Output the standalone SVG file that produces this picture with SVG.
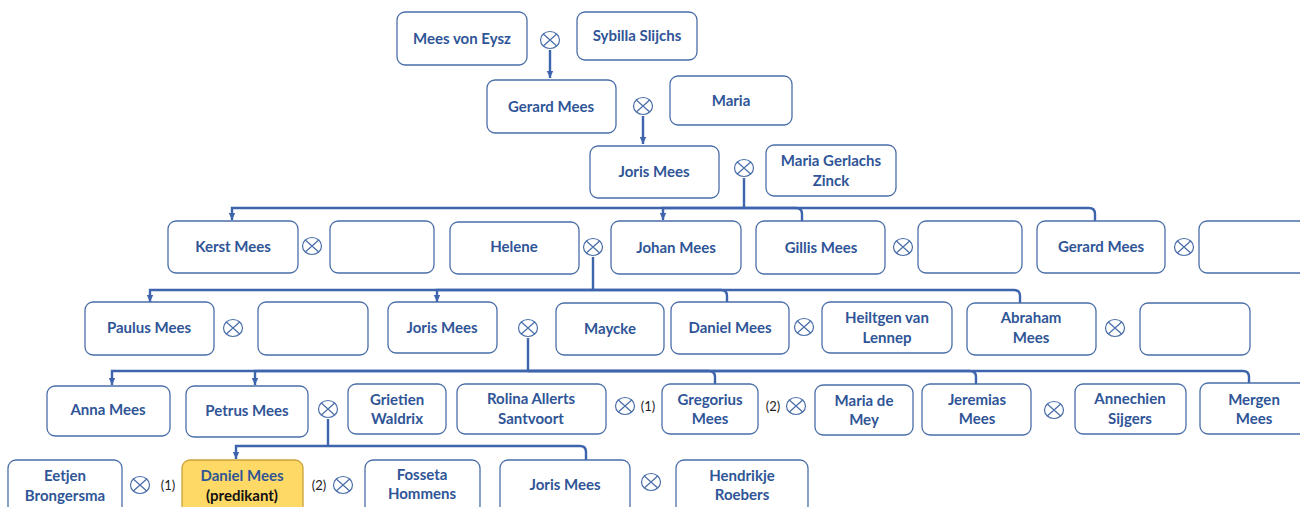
<svg xmlns="http://www.w3.org/2000/svg" width="1300" height="507" viewBox="0 0 1300 507">
<defs>
<style>
.b{fill:#fff;stroke:#4a6ea9;stroke-width:1.3}
.y{fill:#ffd966;stroke:#c9a33a;stroke-width:1.3}
.t{font-family:Lato,"Liberation Sans",sans-serif;font-weight:700;font-size:15px;fill:#2f5597;text-anchor:middle}
.k{fill:#111}
.n{font-family:Lato,"Liberation Sans",sans-serif;font-size:13px;fill:#222;text-anchor:middle}
.c{fill:none;stroke:#3e64ad;stroke-width:2.4}
.m{fill:#fff;stroke:#4a6ea9;stroke-width:1.2}
</style>
<marker id="ah" markerUnits="userSpaceOnUse" markerWidth="8" markerHeight="8" refX="7" refY="4" orient="auto"><path d="M0,0.8L7,4L0,7.2z" fill="#3e64ad"/></marker>
<g id="mx"><ellipse class="m" rx="9.5" ry="8.5"/><path d="M-6.7,-6L6.7,6M6.7,-6L-6.7,6" stroke="#4a6ea9" stroke-width="1.2"/></g>
</defs>
<rect width="1300" height="507" fill="#fff"/>

<g id="connectors">
<path class="c" d="M550,50V78" marker-end="url(#ah)"/>
<path class="c" d="M643,116V144" marker-end="url(#ah)"/>
<path class="c" d="M744,178V208"/>
<path class="c" d="M744,208H232V220" marker-end="url(#ah)"/>
<path class="c" d="M744,208H663V220" marker-end="url(#ah)"/>
<path class="c" d="M744,208H796Q802,208 802,214V221"/>
<path class="c" d="M744,208H1089Q1095,208 1095,214V221"/>
<path class="c" d="M593,257V290"/>
<path class="c" d="M593,290H150V302" marker-end="url(#ah)"/>
<path class="c" d="M593,290H437V302" marker-end="url(#ah)"/>
<path class="c" d="M593,290H721Q727,290 727,296V302"/>
<path class="c" d="M593,290H1014Q1020,290 1020,296V303"/>
<path class="c" d="M528,338V371"/>
<path class="c" d="M528,371H112V385" marker-end="url(#ah)"/>
<path class="c" d="M528,371H255V385" marker-end="url(#ah)"/>
<path class="c" d="M528,371H709Q715,371 715,377V384"/>
<path class="c" d="M528,371H970Q976,371 976,377V384"/>
<path class="c" d="M528,371H1243Q1249,371 1249,377V383"/>
<path class="c" d="M328,419V446"/>
<path class="c" d="M328,446H236V459" marker-end="url(#ah)"/>
<path class="c" d="M328,446H580Q586,446 586,452V460"/>
</g>

<g id="marriages">
<use href="#mx" x="550" y="40"/>
<use href="#mx" x="643" y="106"/>
<use href="#mx" x="744" y="168"/>
<use href="#mx" x="312" y="246"/>
<use href="#mx" x="593" y="247"/>
<use href="#mx" x="903" y="247"/>
<use href="#mx" x="1184" y="247"/>
<use href="#mx" x="233" y="328"/>
<use href="#mx" x="528" y="328"/>
<use href="#mx" x="804" y="327"/>
<use href="#mx" x="1115" y="328"/>
<use href="#mx" x="328" y="409"/>
<use href="#mx" x="625" y="406"/>
<use href="#mx" x="796" y="406"/>
<use href="#mx" x="1054" y="410"/>
<use href="#mx" x="140" y="485"/>
<use href="#mx" x="343" y="485"/>
<use href="#mx" x="651" y="482"/>
<text class="n" x="648" y="411">(1)</text>
<text class="n" x="773" y="411">(2)</text>
<text class="n" x="168" y="490">(1)</text>
<text class="n" x="319" y="490">(2)</text>
</g>

<g id="n-mees-von-eysz"><rect class="b" x="397" y="12" width="130" height="53" rx="8"/><text class="t" x="462" y="44">Mees von Eysz</text></g>
<g id="n-sybilla"><rect class="b" x="577" y="12" width="120" height="48" rx="8"/><text class="t" x="637" y="41">Sybilla Slijchs</text></g>
<g id="n-gerard1"><rect class="b" x="487" y="80" width="129" height="53" rx="8"/><text class="t" x="551" y="112">Gerard Mees</text></g>
<g id="n-maria"><rect class="b" x="670" y="76" width="122" height="49" rx="8"/><text class="t" x="731" y="106">Maria</text></g>
<g id="n-joris1"><rect class="b" x="590" y="146" width="129" height="52" rx="8"/><text class="t" x="654" y="177">Joris Mees</text></g>
<g id="n-maria-gerlachs"><rect class="b" x="766" y="145" width="130" height="51" rx="8"/><text class="t" x="831" y="166">Maria Gerlachs</text><text class="t" x="831" y="186">Zinck</text></g>

<g id="n-kerst"><rect class="b" x="168" y="221" width="130" height="52" rx="8"/><text class="t" x="233" y="252">Kerst Mees</text></g>
<g id="n-empty1"><rect class="b" x="330" y="221" width="104" height="52" rx="8"/></g>
<g id="n-helene"><rect class="b" x="450" y="222" width="129" height="52" rx="8"/><text class="t" x="514" y="252">Helene</text></g>
<g id="n-johan"><rect class="b" x="611" y="221" width="130" height="53" rx="8"/><text class="t" x="676" y="253">Johan Mees</text></g>
<g id="n-gillis"><rect class="b" x="756" y="221" width="129" height="53" rx="8"/><text class="t" x="821" y="253">Gillis Mees</text></g>
<g id="n-empty2"><rect class="b" x="918" y="221" width="104" height="52" rx="8"/></g>
<g id="n-gerard2"><rect class="b" x="1037" y="221" width="128" height="52" rx="8"/><text class="t" x="1101" y="252">Gerard Mees</text></g>
<g id="n-empty3"><rect class="b" x="1199" y="221" width="110" height="52" rx="8"/></g>

<g id="n-paulus"><rect class="b" x="85" y="302" width="129" height="53" rx="8"/><text class="t" x="149" y="333">Paulus Mees</text></g>
<g id="n-empty4"><rect class="b" x="258" y="302" width="110" height="53" rx="8"/></g>
<g id="n-joris2"><rect class="b" x="388" y="302" width="109" height="51" rx="8"/><text class="t" x="442" y="333">Joris Mees</text></g>
<g id="n-maycke"><rect class="b" x="556" y="303" width="108" height="52" rx="8"/><text class="t" x="610" y="334">Maycke</text></g>
<g id="n-daniel1"><rect class="b" x="671" y="302" width="118" height="52" rx="8"/><text class="t" x="730" y="333">Daniel Mees</text></g>
<g id="n-heiltgen"><rect class="b" x="822" y="302" width="130" height="51" rx="8"/><text class="t" x="887" y="323">Heiltgen van</text><text class="t" x="887" y="343">Lennep</text></g>
<g id="n-abraham"><rect class="b" x="967" y="303" width="129" height="52" rx="8"/><text class="t" x="1031" y="323">Abraham</text><text class="t" x="1031" y="343">Mees</text></g>
<g id="n-empty5"><rect class="b" x="1140" y="303" width="110" height="52" rx="8"/></g>

<g id="n-anna"><rect class="b" x="47" y="386" width="123" height="50" rx="8"/><text class="t" x="108" y="415">Anna Mees</text></g>
<g id="n-petrus"><rect class="b" x="186" y="386" width="122" height="51" rx="8"/><text class="t" x="247" y="416">Petrus Mees</text></g>
<g id="n-grietien"><rect class="b" x="348" y="384" width="98" height="50" rx="8"/><text class="t" x="397" y="405">Grietien</text><text class="t" x="397" y="424">Waldrix</text></g>
<g id="n-rolina"><rect class="b" x="457" y="384" width="149" height="50" rx="8"/><text class="t" x="531" y="404">Rolina Allerts</text><text class="t" x="531" y="424">Santvoort</text></g>
<g id="n-gregorius"><rect class="b" x="662" y="384" width="96" height="50" rx="8"/><text class="t" x="710" y="405">Gregorius</text><text class="t" x="710" y="424">Mees</text></g>
<g id="n-maria-de-mey"><rect class="b" x="815" y="385" width="98" height="50" rx="8"/><text class="t" x="864" y="406">Maria de</text><text class="t" x="864" y="425">Mey</text></g>
<g id="n-jeremias"><rect class="b" x="922" y="384" width="109" height="51" rx="8"/><text class="t" x="977" y="405">Jeremias</text><text class="t" x="977" y="424">Mees</text></g>
<g id="n-annechien"><rect class="b" x="1075" y="384" width="111" height="50" rx="8"/><text class="t" x="1130" y="404">Annechien</text><text class="t" x="1130" y="424">Sijgers</text></g>
<g id="n-mergen"><rect class="b" x="1200" y="383" width="110" height="51" rx="8"/><text class="t" x="1254" y="405">Mergen</text><text class="t" x="1254" y="424">Mees</text></g>

<g id="n-eetjen"><rect class="b" x="8" y="460" width="114" height="54" rx="8"/><text class="t" x="65" y="481">Eetjen</text><text class="t" x="65" y="501">Brongersma</text></g>
<g id="n-daniel-predikant"><rect class="y" x="182" y="460" width="121" height="54" rx="8"/><text class="t" x="242" y="481">Daniel Mees</text><text class="t k" x="242" y="501">(predikant)</text></g>
<g id="n-fosseta"><rect class="b" x="365" y="460" width="115" height="54" rx="8"/><text class="t" x="422" y="480">Fosseta</text><text class="t" x="422" y="499">Hommens</text></g>
<g id="n-joris3"><rect class="b" x="500" y="460" width="130" height="54" rx="8"/><text class="t" x="565" y="490">Joris Mees</text></g>
<g id="n-hendrikje"><rect class="b" x="676" y="460" width="132" height="54" rx="8"/><text class="t" x="742" y="481">Hendrikje</text><text class="t" x="742" y="500">Roebers</text></g>
</svg>
